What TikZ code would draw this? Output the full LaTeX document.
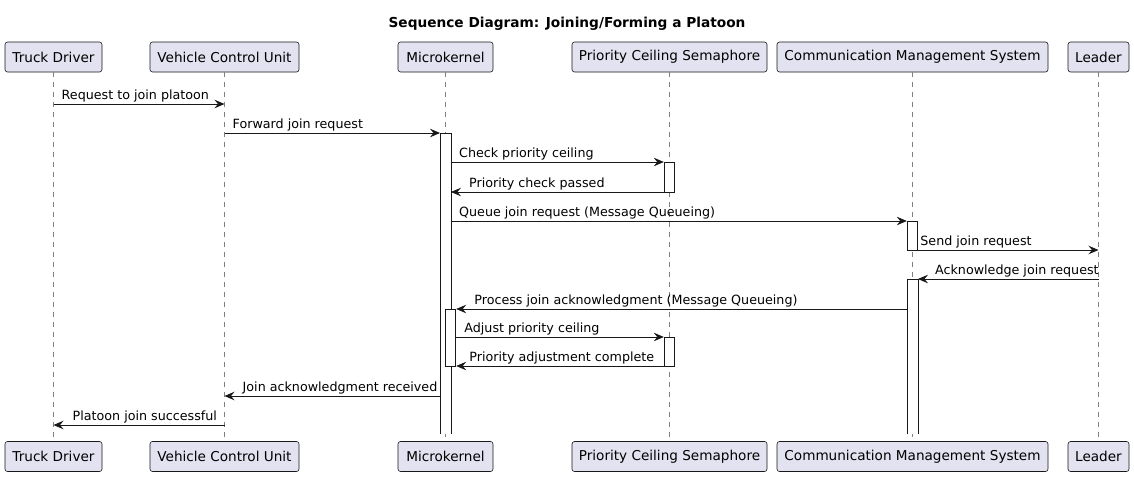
\documentclass[tikz,border=0pt]{standalone}
\usepackage{fontspec}
\setmainfont{DejaVu Sans}
\usetikzlibrary{arrows.meta,calc}
\definecolor{pbox}{HTML}{E2E2F0}
\definecolor{ink}{HTML}{181818}
\begin{document}
\begin{tikzpicture}[x=1pt,y=-1pt,
  part/.style={draw=ink,fill=pbox,rounded corners=2.5pt,line width=0.6pt,minimum height=30pt,inner sep=0pt,font=\fontsize{13.6}{15}\selectfont,text=black},
  life/.style={draw=ink!55,line width=0.6pt,dash pattern=on 5pt off 5pt},
  actbar/.style={draw=ink,fill=white,line width=0.9pt,minimum width=10.5pt,inner sep=0pt,anchor=north},
  openbar/.style={draw=none,fill=white,minimum width=10.5pt,inner sep=0pt,anchor=north},
  barside/.style={draw=ink,line width=0.9pt},
  msg/.style={draw=ink,line width=0.9pt,-{Stealth[length=10pt,width=8.5pt,inset=3.5pt]}},
  lbl/.style={font=\fontsize{12.7}{14}\selectfont,inner sep=0pt,anchor=base west,text=black}]
\useasboundingbox (0,0) rectangle (1134,477);
\fill[white] (0,0) rectangle (1134,477);
\node[font=\bfseries\fontsize{13.7}{15}\selectfont,anchor=base] (title) at (567,27) {Sequence Diagram: Joining/Forming a Platoon};
% participants
\foreach \n/\x/\w/\t in {td/53.5/97/Truck Driver, vcu/224.5/149/Vehicle Control Unit, mk/445.5/95/Microkernel, pcs/669.5/195/Priority Ceiling Semaphore, cms/912.5/271/Communication Management System, ld/1098.5/61/Leader}{
  \node[part,minimum width=\w pt] (\n T) at (\x,57) {\t};
  \node[part,minimum width=\w pt] (\n B) at (\x,456.5) {\t};
  \draw[life] (\n T.south) -- (\n B.north);
}
% activation bars
\node[openbar,minimum height=301pt] (mkA) at (445.5,133) {};
\draw[barside] (mkA.south west) -- (mkA.north west) -- (mkA.north east) -- (mkA.south east);
\node[actbar,minimum height=57pt] (mkN) at (450.5,309) {};
\node[actbar,minimum height=30pt] (pcsA) at (669.5,162) {};
\node[actbar,minimum height=29pt] (pcsB) at (669.5,337) {};
\node[actbar,minimum height=29pt] (cmsA) at (912.5,221) {};
\node[openbar,minimum height=155pt] (cmsB) at (912.5,279) {};
\draw[barside] (cmsB.south west) -- (cmsB.north west) -- (cmsB.north east) -- (cmsB.south east);
% message rows
\foreach \i/\y in {1/104,2/133,3/162,4/192,5/221,6/250,7/279,8/309,9/337,10/366,11/396,12/425}{
  \coordinate (m\i) at (0,\y);
}
\draw[msg] (tdT |- m1) -- (vcuT |- m1);
\node[lbl] (l1) at ($(tdT |- m1)+(8,-5)$) {Request to join platoon};
\draw[msg] (vcuT |- m2) -- (mkA.west |- m2);
\node[lbl] (l2) at ($(vcuT |- m2)+(8,-5)$) {Forward join request};
\draw[msg] (mkA.east |- m3) -- (pcsA.west |- m3);
\node[lbl] (l3) at ($(mkA.east |- m3)+(8,-5)$) {Check priority ceiling};
\draw[msg] (pcsA.west |- m4) -- (mkA.east |- m4);
\node[lbl] (l4) at ($(mkA.east |- m4)+(18,-5)$) {Priority check passed};
\draw[msg] (mkA.east |- m5) -- (cmsA.west |- m5);
\node[lbl] (l5) at ($(mkA.east |- m5)+(8,-5)$) {Queue join request (Message Queueing)};
\draw[msg] (cmsA.west |- m6) -- (ldT |- m6);
\node[lbl] (l6) at ($(cmsA.east |- m6)+(2,-5)$) {Send join request};
\draw[msg] (ldT |- m7) -- (cmsB.east |- m7);
\node[lbl] (l7) at ($(cmsB.east |- m7)+(17,-5)$) {Acknowledge join request};
\draw[msg] (cmsB.west |- m8) -- (mkN.east |- m8);
\node[lbl] (l8) at ($(mkN.east |- m8)+(18,-5)$) {Process join acknowledgment (Message Queueing)};
\draw[msg] (mkN.east |- m9) -- (pcsB.west |- m9);
\node[lbl] (l9) at ($(mkN.east |- m9)+(8,-5)$) {Adjust priority ceiling};
\draw[msg] (pcsB.west |- m10) -- (mkN.east |- m10);
\node[lbl] (l10) at ($(mkN.east |- m10)+(13,-5)$) {Priority adjustment complete};
\draw[msg] (mkA.west |- m11) -- (vcuT |- m11);
\node[lbl] (l11) at ($(vcuT |- m11)+(18,-5)$) {Join acknowledgment received};
\draw[msg] (vcuT |- m12) -- (tdT |- m12);
\node[lbl] (l12) at ($(tdT |- m12)+(19,-5)$) {Platoon join successful};
\end{tikzpicture}
\end{document}
